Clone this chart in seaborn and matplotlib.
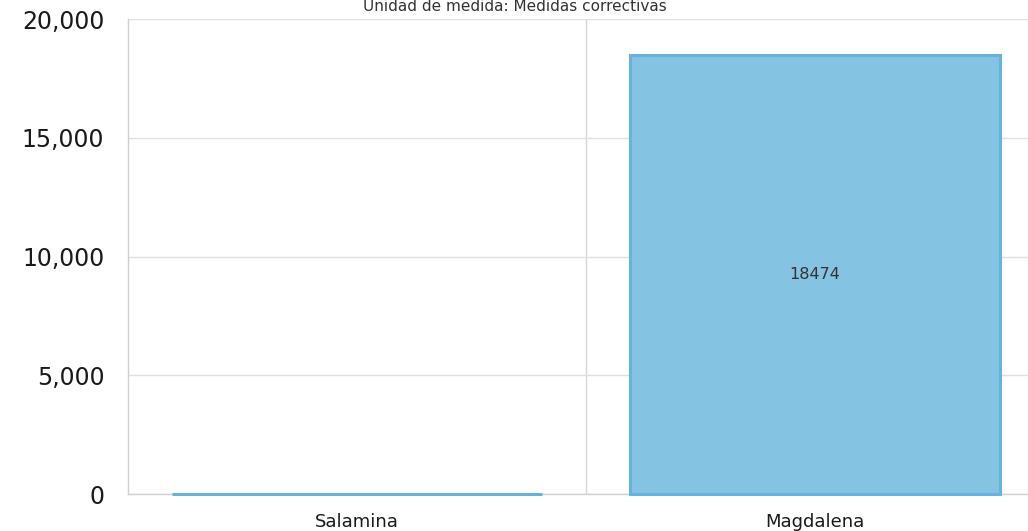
import matplotlib
matplotlib.use("Agg")
import matplotlib.pyplot as plt
import seaborn as sns
import pandas as pd
from matplotlib.ticker import FuncFormatter

categories = ["Salamina", "Magdalena"]
values = [0, 18474]
y_ticks = [0, 5000, 10000, 15000, 20000]
title = "Unidad de medida: Medidas correctivas"

sns.set_theme(style="white")
plt.rcParams['font.family'] = ['DejaVu Sans']

df = pd.DataFrame({"cat": categories, "val": values})

W, H = 1028, 531
fig = plt.figure(figsize=(W / 100, H / 100), dpi=100)
ax = fig.add_axes([128 / W, 37 / H, (1044 - 128) / W, 475 / H])

sns.barplot(data=df, x="cat", y="val", ax=ax, width=0.81, color="#85C3E3",
            saturation=1, edgecolor="#66B3DB", linewidth=2.2, zorder=3)
for p in ax.patches:
    p.set_clip_on(False)
    p.set_zorder(4)

ax.set_xlim(-0.5, 1.5)
ax.set_ylim(0, 20000)
ax.set_yticks(y_ticks)
ax.yaxis.set_major_formatter(FuncFormatter(lambda v, p: f"{int(v):,}"))
ax.set_xticks([0.5], minor=True)
ax.grid(axis="y", which="major", color="#E0E0E0", linewidth=1, zorder=0)
ax.grid(axis="x", which="minor", color="#D6D6D6", linewidth=1, zorder=0)
ax.grid(axis="x", which="major", visible=False)
ax.tick_params(axis="y", labelsize=17, pad=17, length=0, labelcolor="#1a1a1a")
ax.tick_params(axis="x", labelsize=13, pad=14, length=0, labelcolor="#1a1a1a")
ax.tick_params(axis="x", which="minor", length=0)
ax.set_xlabel("")
ax.set_ylabel("")

for s in ["top", "right"]:
    ax.spines[s].set_visible(False)
ax.spines["left"].set_color("#D0D0D0")
ax.spines["bottom"].set_color("#D0D0D0")
ax.spines["left"].set_linewidth(1)
ax.spines["bottom"].set_linewidth(1)
ax.spines["bottom"].set_zorder(2)

for i, v in enumerate(values):
    if v > 0:
        ax.text(i, v / 2, str(v), ha="center", va="center", fontsize=11.5,
                color="#333333", zorder=5)

fig.text(515 / W, 1 - 11 / H, title, ha="center", va="baseline",
         fontsize=11, color="#333333")

fig.savefig("out.png", dpi=100)
